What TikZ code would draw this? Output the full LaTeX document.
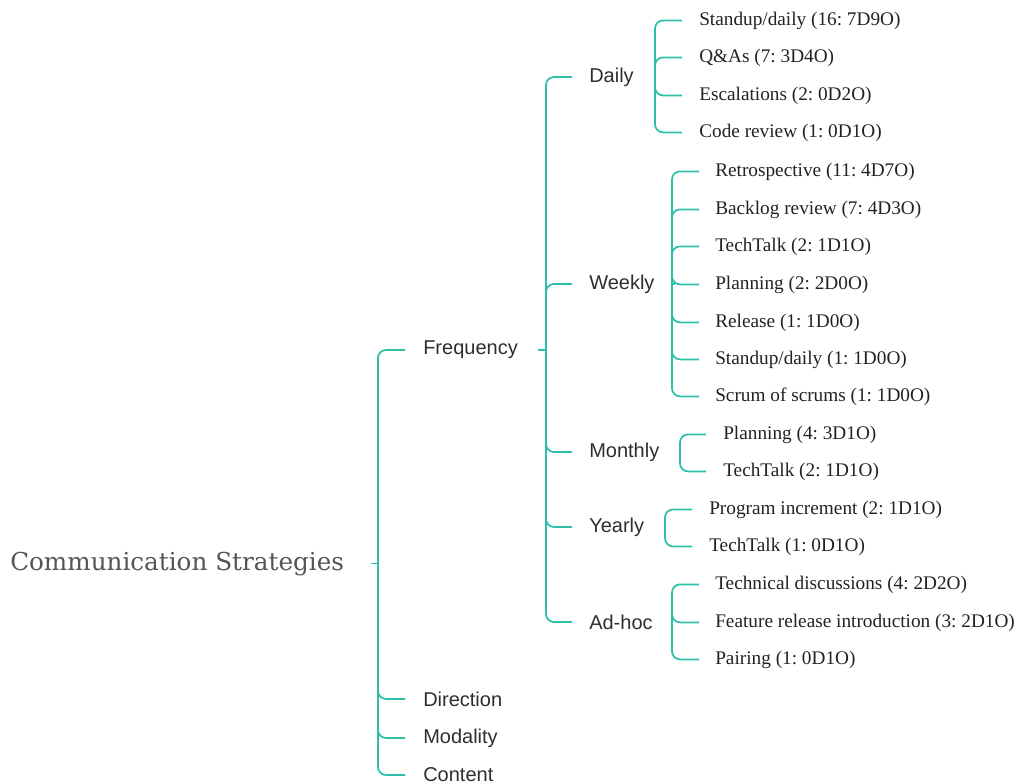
\documentclass[tikz,border=0pt]{standalone}
\usepackage{fontspec}
\setmainfont{Liberation Serif}
\newfontfamily\labelfont{Liberation Sans}
\newfontfamily\rootfont{DejaVu Serif}
\definecolor{branchline}{HTML}{2CBFAA}
\definecolor{leafink}{HTML}{222222}
\definecolor{labelink}{HTML}{2E2E2E}
\definecolor{rootink}{HTML}{555555}
\frenchspacing
\begin{document}
\begin{tikzpicture}[x=0.75pt,y=-0.75pt,
  link/.style={draw=branchline, line width=1.3pt, rounded corners=6pt},
  leaf/.style={anchor=west, inner sep=0pt, yshift=-1.8pt, text=leafink, font=\fontsize{14.45}{17}\selectfont},
  topic/.style={anchor=west, inner sep=0pt, yshift=-1.5pt, text=labelink, font=\labelfont\fontsize{15}{18}\selectfont},
  rootnode/.style={anchor=west, inner sep=0pt, yshift=-1.2pt, text=rootink, font=\rootfont\fontsize{18.5}{22}\selectfont}]
\useasboundingbox (0,0) rectangle (1017,784);

% root and first level
\node[rootnode] (root) at (10,562) {Communication Strategies};
\node[topic] (freq) at (423,348) {Frequency};
\node[topic] (dir)  at (423,697) {Direction};
\node[topic] (moda) at (423,736) {Modality};
\node[topic] (cont) at (423,773) {Content};

% frequency groups
\node[topic] (daily)   at (589,75)  {Daily};
\node[topic] (weekly)  at (589,282) {Weekly};
\node[topic] (monthly) at (589,450) {Monthly};
\node[topic] (yearly)  at (589,525) {Yearly};
\node[topic] (adhoc)   at (589,620) {Ad-hoc};

% daily
\node[leaf] (d1) at (699,18)  {Standup/daily (16: 7D9O)};
\node[leaf] (d2) at (699,55)  {Q\&As (7: 3D4O)};
\node[leaf] (d3) at (699,93)  {Escalations (2: 0D2O)};
\node[leaf] (d4) at (699,130) {Code review (1: 0D1O)};

% weekly
\node[leaf] (w1) at (715,169) {Retrospective (11: 4D7O)};
\node[leaf] (w2) at (715,207) {Backlog review (7: 4D3O)};
\node[leaf] (w3) at (715,244) {TechTalk (2: 1D1O)};
\node[leaf] (w4) at (715,282) {Planning (2: 2D0O)};
\node[leaf] (w5) at (715,320) {Release (1: 1D0O)};
\node[leaf] (w6) at (715,357) {Standup/daily (1: 1D0O)};
\node[leaf] (w7) at (715,394) {Scrum of scrums (1: 1D0O)};

% monthly
\node[leaf] (m1) at (723,432) {Planning (4: 3D1O)};
\node[leaf] (m2) at (723,469) {TechTalk (2: 1D1O)};

% yearly
\node[leaf] (y1) at (709,507) {Program increment (2: 1D1O)};
\node[leaf] (y2) at (709,544) {TechTalk (1: 0D1O)};

% ad-hoc
\node[leaf] (a1) at (715,582) {Technical discussions (4: 2D2O)};
\node[leaf] (a2) at (715,620) {Feature release introduction (3: 2D1O)};
\node[leaf] (a3) at (715,657) {Pairing (1: 0D1O)};

% bus points
\coordinate (b0) at (378,562);
\coordinate (bf) at (546,348);
\coordinate (bd) at (655,75);
\coordinate (bw) at (672,282);
\coordinate (bm) at (680,450);
\coordinate (by) at (665,525);
\coordinate (ba) at (672,620);

% stubs from parents to their buses
\draw[link] ([xshift=20pt]root.east) -- (root.east -| b0);
\draw[link] ([xshift=15pt]freq.east) -- (freq.east -| bf);
\draw[link] ([xshift=15pt]daily.east) -- (daily.east -| bd);
\draw[link] ([xshift=15pt]weekly.east) -- (weekly.east -| bw);
\draw[link] ([xshift=15pt]monthly.east) -- (monthly.east -| bm);
\draw[link] ([xshift=15pt]yearly.east) -- (yearly.east -| by);
\draw[link] ([xshift=15pt]adhoc.east) -- (adhoc.east -| ba);

% branches from buses to children
\foreach \c in {freq,dir,moda,cont} \draw[link] (b0) |- ([xshift=-13.5pt]\c.west);
\foreach \c in {daily,weekly,monthly,yearly,adhoc} \draw[link] (bf) |- ([xshift=-12.75pt]\c.west);
\foreach \c in {d1,d2,d3,d4} \draw[link] (bd) |- ([xshift=-12.75pt]\c.west);
\foreach \c in {w1,w2,w3,w4,w5,w6,w7} \draw[link] (bw) |- ([xshift=-12pt]\c.west);
\foreach \c in {m1,m2} \draw[link] (bm) |- ([xshift=-12.75pt]\c.west);
\foreach \c in {y1,y2} \draw[link] (by) |- ([xshift=-12.75pt]\c.west);
\foreach \c in {a1,a2,a3} \draw[link] (ba) |- ([xshift=-12pt]\c.west);
\end{tikzpicture}
\end{document}
